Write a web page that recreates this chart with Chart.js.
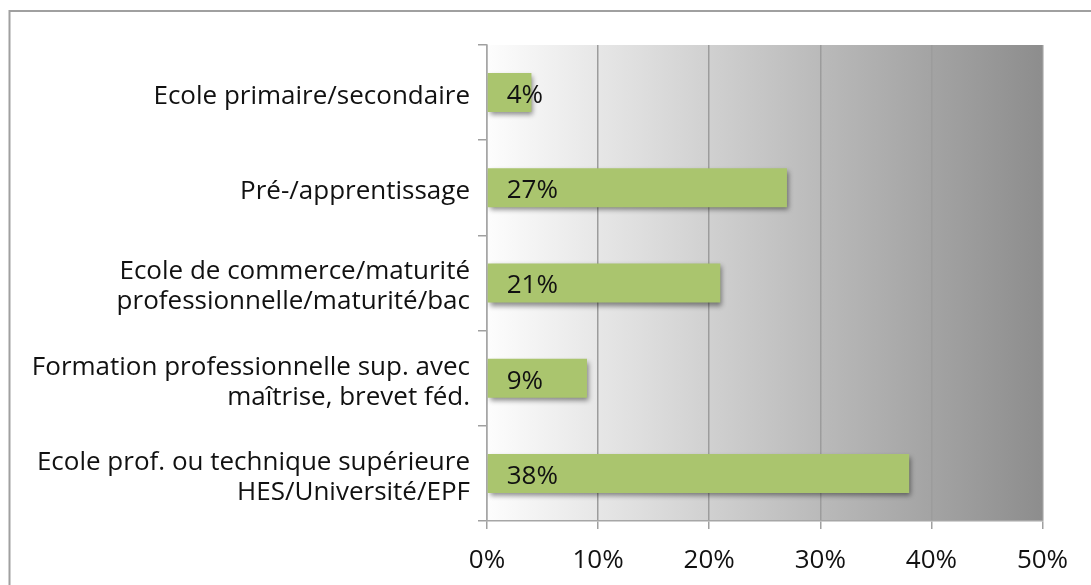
<!DOCTYPE html>
<html>
<head>
<meta charset="utf-8">
<script src="https://cdn.jsdelivr.net/npm/chart.js@4"></script>
<style>
  body { margin: 0; background: #fff; }
  #wrap { width: 1091px; height: 585px; }
</style>
</head>
<body>
<div id="wrap"><canvas id="myChart" width="1091" height="585"></canvas></div>
<script>
const categories = [
    'Ecole primaire/secondaire',
    'Pré-/apprentissage',
    ['Ecole de commerce/maturité', 'professionnelle/maturité/bac'],
    ['Formation professionnelle sup. avec', 'maîtrise, brevet féd.'],
    ['Ecole prof. ou technique supérieure', 'HES/Université/EPF']
];
const shares = [4, 27, 21, 9, 38];
const xTicks = [0, 10, 20, 30, 40, 50];

const FONT = '"Open Sans", "Noto Sans", sans-serif';

// frame + gradient behind the plot
const backdrop = {
    id: 'backdrop',
    beforeDraw(chart) {
        const ctx = chart.ctx;
        const a = chart.chartArea;
        ctx.save();
        ctx.strokeStyle = '#a0a0a0';
        ctx.lineWidth = 2;
        ctx.strokeRect(9.5, 11, 1200, 1200);
        const g = ctx.createLinearGradient(a.left, 0, a.right, 0);
        g.addColorStop(0, '#fdfdfd');
        g.addColorStop(1, '#8d8d8d');
        ctx.fillStyle = g;
        ctx.fillRect(a.left, a.top, a.right - a.left, a.bottom - a.top);
        ctx.restore();
    }
};

// drop shadow on the bars
const barShadow = {
    id: 'barShadow',
    beforeDatasetDraw(chart) {
        const ctx = chart.ctx;
        ctx.save();
        ctx.shadowColor = 'rgba(0,0,0,0.45)';
        ctx.shadowBlur = 5;
        ctx.shadowOffsetX = 2;
        ctx.shadowOffsetY = 3;
    },
    afterDatasetDraw(chart) {
        chart.ctx.restore();
    }
};

// value labels inside the bars
const valueLabels = {
    id: 'valueLabels',
    afterDatasetsDraw(chart) {
        const ctx = chart.ctx;
        const meta = chart.getDatasetMeta(0);
        ctx.save();
        ctx.font = '26px ' + FONT;
        ctx.fillStyle = '#111';
        ctx.textAlign = 'left';
        ctx.textBaseline = 'middle';
        meta.data.forEach((bar, i) => {
            ctx.fillText(shares[i] + '%', bar.base + 19, bar.y + 3);
        });
        ctx.restore();
    }
};

new Chart(document.getElementById('myChart'), {
    type: 'bar',
    data: {
        labels: categories,
        datasets: [{
            data: shares,
            backgroundColor: '#aac56e',
            borderWidth: 0,
            categoryPercentage: 1,
            barPercentage: 0.41
        }]
    },
    options: {
        indexAxis: 'y',
        responsive: false,
        animation: false,
        devicePixelRatio: 1,
        layout: { padding: { top: 45, right: 48.5, left: 0, bottom: 0 } },
        plugins: {
            legend: { display: false },
            tooltip: { enabled: false }
        },
        scales: {
            x: {
                min: 0,
                max: 50,
                afterFit(scale) { scale.height = 64; },
                afterBuildTicks(scale) { scale.ticks = xTicks.map(v => ({ value: v })); },
                ticks: {
                    callback: v => v + '%',
                    color: '#111',
                    font: { size: 26, family: FONT },
                    padding: 16,
                    maxRotation: 0
                },
                grid: {
                    color: '#9c9c9c',
                    lineWidth: 1.5,
                    tickLength: 8,
                    tickColor: '#a0a0a0'
                },
                border: { display: true, color: '#a6a6a6', width: 1.5 }
            },
            y: {
                afterFit(scale) { scale.width = 487; },
                ticks: {
                    color: '#111',
                    font: { size: 26, family: FONT, lineHeight: 1.15 },
                    padding: 8,
                    labelOffset: 4
                },
                grid: {
                    drawOnChartArea: false,
                    tickLength: 9,
                    color: '#a0a0a0',
                    lineWidth: 1.5
                },
                border: { display: true, color: '#a6a6a6', width: 1.5 }
            }
        }
    },
    plugins: [backdrop, barShadow, valueLabels]
});
</script>
</body>
</html>
